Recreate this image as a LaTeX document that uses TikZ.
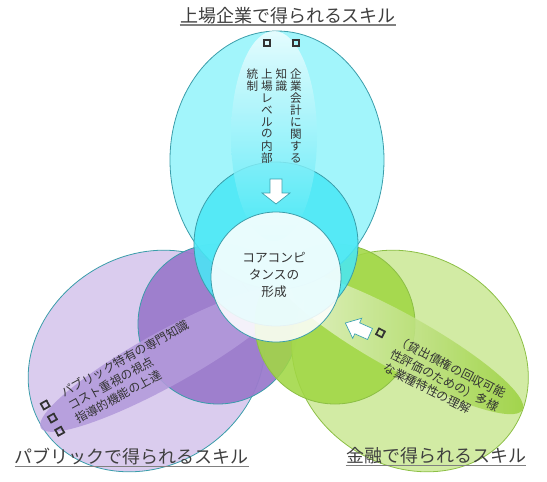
\documentclass[tikz,border=0pt]{standalone}
\usepackage{fontspec}
\usepackage{xcolor}
\usepackage{tikz}
\usetikzlibrary{positioning,calc}
\newfontfamily\jpfont{Noto Sans CJK JP}
\definecolor{ink}{HTML}{333333}
\definecolor{titleink}{HTML}{3F3F3F}
\definecolor{rulegray}{HTML}{808080}
\definecolor{edgeteal}{HTML}{3A9DAA}
\definecolor{edgegreen}{HTML}{8CBF45}
\definecolor{cyanbig}{HTML}{98F4FB}
\definecolor{cyanmid}{HTML}{48E8F6}
\definecolor{cyanlite}{HTML}{F4FEFF}
\definecolor{lilacbig}{HTML}{DACCEE}
\definecolor{lilacmid}{HTML}{9B7BCC}
\definecolor{lilacband}{HTML}{B39ADB}
\definecolor{limebig}{HTML}{CDE99A}
\definecolor{limemid}{HTML}{A1D744}
\definecolor{limelite}{HTML}{F2F9E4}
\definecolor{limedeep}{HTML}{98CF38}
\definecolor{arrowedge}{HTML}{3AA0AE}
% bullet square
\newcommand\chk{\raisebox{0.3pt}{\setlength{\fboxsep}{0pt}\setlength{\fboxrule}{1.3pt}\fbox{\rule{0pt}{3.6pt}\hspace{3.6pt}}}}
\tikzset{
  every node/.style={font=\jpfont,text=ink},
  bigedge/.style={draw=edgeteal,line width=0.6pt},
  limeedge/.style={draw=edgegreen,line width=0.6pt},
  title/.style={font=\jpfont\fontsize{13.5}{16}\selectfont,text=titleink,inner sep=0pt},
  uline/.style={draw=rulegray,line width=1.1pt},
  tatechar/.style={inner sep=0pt,font=\jpfont\fontsize{8.7}{9}\selectfont},
  bandtext/.style={align=left,anchor=west,inner sep=0pt,font=\jpfont\fontsize{9}{11.25}\selectfont},
  corecirc/.style={draw=edgeteal,line width=0.6pt,fill=white,fill opacity=0.87},
  blockarrow/.style={draw=arrowedge,line width=0.5pt,fill=white}
}
\begin{document}
\begin{tikzpicture}[x=0.75pt,y=-0.75pt]
  \useasboundingbox (0,0) rectangle (547,482);
  % public (lower left)
  \draw[bigedge,fill=lilacbig,rotate around={33:(146.5,361)}] (146.5,361) ellipse [x radius=123.5, y radius=105];
  \draw[bigedge,fill=lilacmid,fill opacity=0.95] (218,324) circle [radius=80];
  \fill[lilacband,fill opacity=0.88,rotate around={29:(165,359)}] (165,359) ellipse [x radius=142, y radius=27];
  % finance (lower right)
  \draw[limeedge,fill=limebig,fill opacity=0.9,rotate around={-33:(410,361)}] (410,361) ellipse [x radius=123.5, y radius=105];
  \draw[limeedge,fill=limemid,fill opacity=0.88] (335,324) circle [radius=80];
  \shade[left color=limelite,right color=limedeep,fill opacity=0.85,rotate around={-29:(400,342)}] (400,342) ellipse [x radius=140, y radius=28];
  % listed company (top)
  \draw[bigedge,fill=cyanbig,fill opacity=0.9] (277,160) ellipse [x radius=107, y radius=129];
  \draw[bigedge,fill=cyanmid,fill opacity=0.86] (276,244) circle [radius=82];
  \shade[top color=cyanlite,bottom color=cyanmid,fill opacity=0.8] (274,136) ellipse [x radius=43, y radius=105];
  % core
  \draw[corecirc] (276,277) circle [radius=65];
  \node[align=center,font=\jpfont\fontsize{9.5}{12.75}\selectfont] (core) at (274,275) {コアコンピ\\タンスの\\形成};

  % block arrows
  \begin{scope}[shift={(276,179)},rotate=-90]
    \draw[blockarrow] (0,-6) -- (14,-6) -- (14,-14) -- (25,0) -- (14,14) -- (14,6) -- (0,6) -- cycle;
  \end{scope}
  \begin{scope}[shift={(370,334)},rotate=156]
    \draw[blockarrow] (0,-6) -- (14,-6) -- (14,-11) -- (27,0) -- (14,11) -- (14,6) -- (0,6) -- cycle;
  \end{scope}

  % top texts (vertical)
  \node[inner sep=0pt] (ck1) at (296,43) {\chk};
  \node[inner sep=0pt] (ck2) at (267,43) {\chk};
  \foreach \ch [count=\i] in {企,業,会,計,に,関,す,る}
    \node[tatechar] (ca\i) at (296,62+12*\i) {\ch};
  \foreach \ch [count=\i] in {知,識}
    \node[tatechar] (cb\i) at (281.5,62+12*\i) {\ch};
  \foreach \ch [count=\i] in {上,場,レ,ベ,ル,の,内,部}
    \node[tatechar] (cc\i) at (267,62+12*\i) {\ch};
  \foreach \ch [count=\i] in {統,制}
    \node[tatechar] (cd\i) at (252.5,62+12*\i) {\ch};

  % public texts
  \node[bandtext,rotate=29] (pubtxt) at (69,407)
    {\llap{\chk\hspace{12pt}}パブリック特有の専門知識\\\llap{\chk\hspace{12pt}}コスト重視の視点\\\llap{\chk\hspace{12pt}}指導的機能の上達};

  % finance texts
  \node[bandtext,rotate=-27] (fintxt) at (391,353)
    {\llap{\chk\hspace{11pt}}（貸出債権の回収可能\\性評価のための）多様\\な業種特性の理解};

  % titles
  \node[title] (ttop) at (288,15.5) {上場企業で得られるスキル};
  \node[title] (tpub) at (132,457) {パブリックで得られるスキル};
  \node[title] (tfin) at (436,456) {金融で得られるスキル};
  \draw[uline] ([yshift=-0.5pt]ttop.south west) -- ([yshift=-0.5pt]ttop.south east);
  \draw[uline] ([yshift=-0.5pt]tpub.south west) -- ([yshift=-0.5pt]tpub.south east);
  \draw[uline] ([yshift=-0.5pt]tfin.south west) -- ([yshift=-0.5pt]tfin.south east);
\end{tikzpicture}
\end{document}
